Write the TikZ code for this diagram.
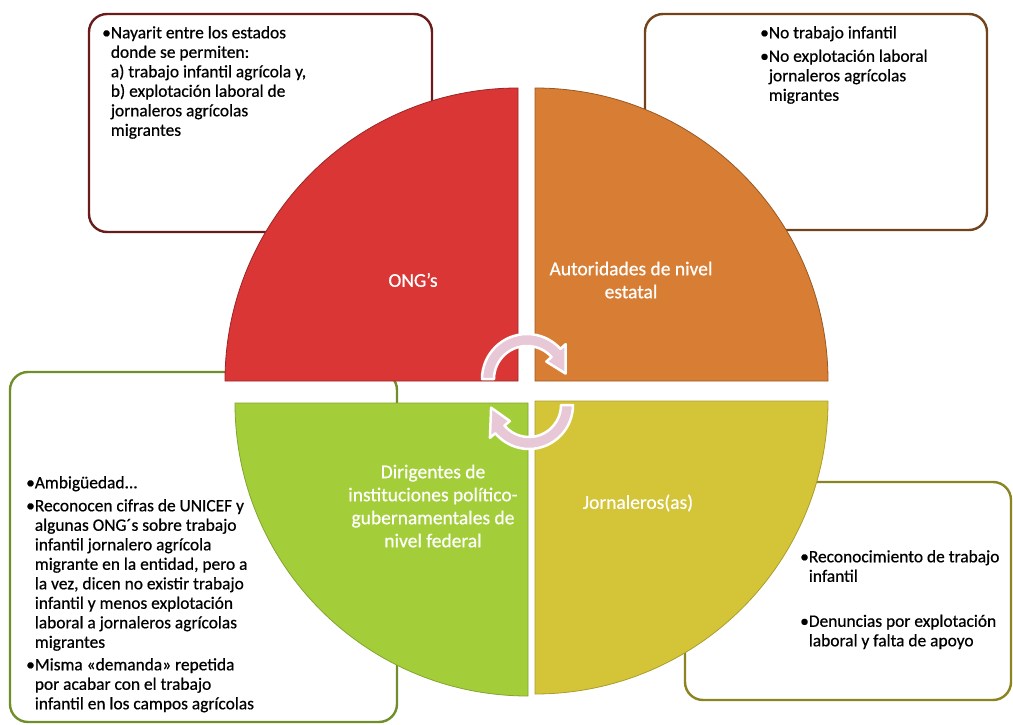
\documentclass[tikz,border=0pt]{standalone}
\usepackage{fontspec}
\setmainfont{Carlito}
\newfontfamily\heavyfont[FakeBold=0.6]{Carlito}
\definecolor{qred}{RGB}{218,54,54}
\definecolor{qorange}{RGB}{216,126,52}
\definecolor{qgreen}{RGB}{163,206,58}
\definecolor{qyellow}{RGB}{212,196,56}
\definecolor{bred}{RGB}{105,28,28}
\definecolor{bbrown}{RGB}{115,68,28}
\definecolor{bgreen}{RGB}{112,142,42}
\definecolor{bolive}{RGB}{138,132,34}
\definecolor{apink}{RGB}{232,200,214}
\newcommand\fstrut{\rule{0pt}{12pt}}
\newcommand\hang{\hphantom{•}}
\tikzset{
  infobox/.style={line width=2.4pt, rounded corners=18pt, fill=white},
  quad/.style={line width=0.8pt},
  arrowband/.style={fill=apink, draw=white, line width=2.5pt, line join=round},
  boxtext/.style={anchor=north west, inner sep=0pt, align=left, text=black,
    font=\heavyfont\fontsize{17.4}{19.5}\selectfont},
  quadlabel/.style={inner sep=0pt, align=center, text=white,
    font=\heavyfont\fontsize{19.5}{23}\selectfont}
}
\begin{document}
\begin{tikzpicture}[x=1pt,y=-1pt]
\useasboundingbox (0,0) rectangle (1013,725);
\fill[white] (0,0) rectangle (1013,725);

% information boxes
\draw[infobox, draw=bred] (89,14) rectangle (432,232);
\draw[infobox, draw=bbrown] (645,14) rectangle (987,230);
\draw[infobox, draw=bgreen] (10,372) rectangle (397,722);
\draw[infobox, draw=bolive] (685,482) rectangle (1011,700);

% quadrants
\draw[quad, fill=qred, draw=qred!70!black] (518,381) -- (225,381)
  arc[start angle=180, end angle=270, radius=293] -- cycle;
\draw[quad, fill=qorange, draw=qorange!70!black] (535,381) -- (535,88)
  arc[start angle=270, end angle=360, radius=293] -- cycle;
\draw[quad, fill=qgreen, draw=qgreen!80!black] (528,403) -- (235,403)
  arc[start angle=180, end angle=90, radius=293] -- cycle;
\draw[quad, fill=qyellow, draw=qyellow!80!black] (535,401) -- (828,401)
  arc[start angle=0, end angle=90, radius=293] -- cycle;

% cycle arrows
\path[arrowband] ([shift={(527,379)}]180:45)
  arc[start angle=180, end angle=318, radius=45]
  -- ([shift={(527,379)}]318:52) -- ([shift={(527,379)}]352:39)
  -- ([shift={(527,379)}]318:26) -- ([shift={(527,379)}]318:33)
  arc[start angle=318, end angle=180, radius=33] -- cycle;
\path[arrowband] ([shift={(529,405)}]0:44)
  arc[start angle=0, end angle=140, radius=44]
  -- ([shift={(529,405)}]140:51) -- ([shift={(529,405)}]176:38)
  -- ([shift={(529,405)}]140:25) -- ([shift={(529,405)}]140:32)
  arc[start angle=140, end angle=0, radius=32] -- cycle;

% quadrant labels
\node[quadlabel] (ong) at (413,280) {ONG’s};
\node[quadlabel] (aut) at (631,280) {Autoridades de nivel\\estatal};
\node[quadlabel] (dir) at (433,506) {Dirigentes de\\instituciones político-\\gubernamentales de\\nivel federal};
\node[quadlabel] (jor) at (638,503) {Jornaleros(as)};

% box texts
\node[boxtext] (t1) at (102,26) {\fstrut•Nayarit entre los estados\\
\hang donde se permiten:\\
\hang a) trabajo infantil agrícola y,\\
\hang b) explotación laboral de\\
\hang jornaleros agrícolas\\
\hang migrantes};
\node[boxtext] (t2) at (760,26) {\fstrut•No trabajo infantil\\[4pt]
•No explotación laboral\\
\hang jornaleros agrícolas\\
\hang migrantes};
\node[boxtext] (t3) at (26,476) {\fstrut•Ambigüedad...\\[3.5pt]
•Reconocen cifras de UNICEF y\\
\hang algunas ONG´s sobre trabajo\\
\hang infantil jornalero agrícola\\
\hang migrante en la entidad, pero a\\
\hang la vez, dicen no existir trabajo\\
\hang infantil y menos explotación\\
\hang laboral a jornaleros agrícolas\\
\hang migrantes\\[3pt]
•Misma «demanda» repetida\\
\hang por acabar con el trabajo\\
\hang infantil en los campos agrícolas};
\node[boxtext] (t4) at (800,550) {\fstrut•Reconocimiento de trabajo\\
\hang infantil\\[25.5pt]
•Denuncias por explotación\\
\hang laboral y falta de apoyo};
\end{tikzpicture}
\end{document}
